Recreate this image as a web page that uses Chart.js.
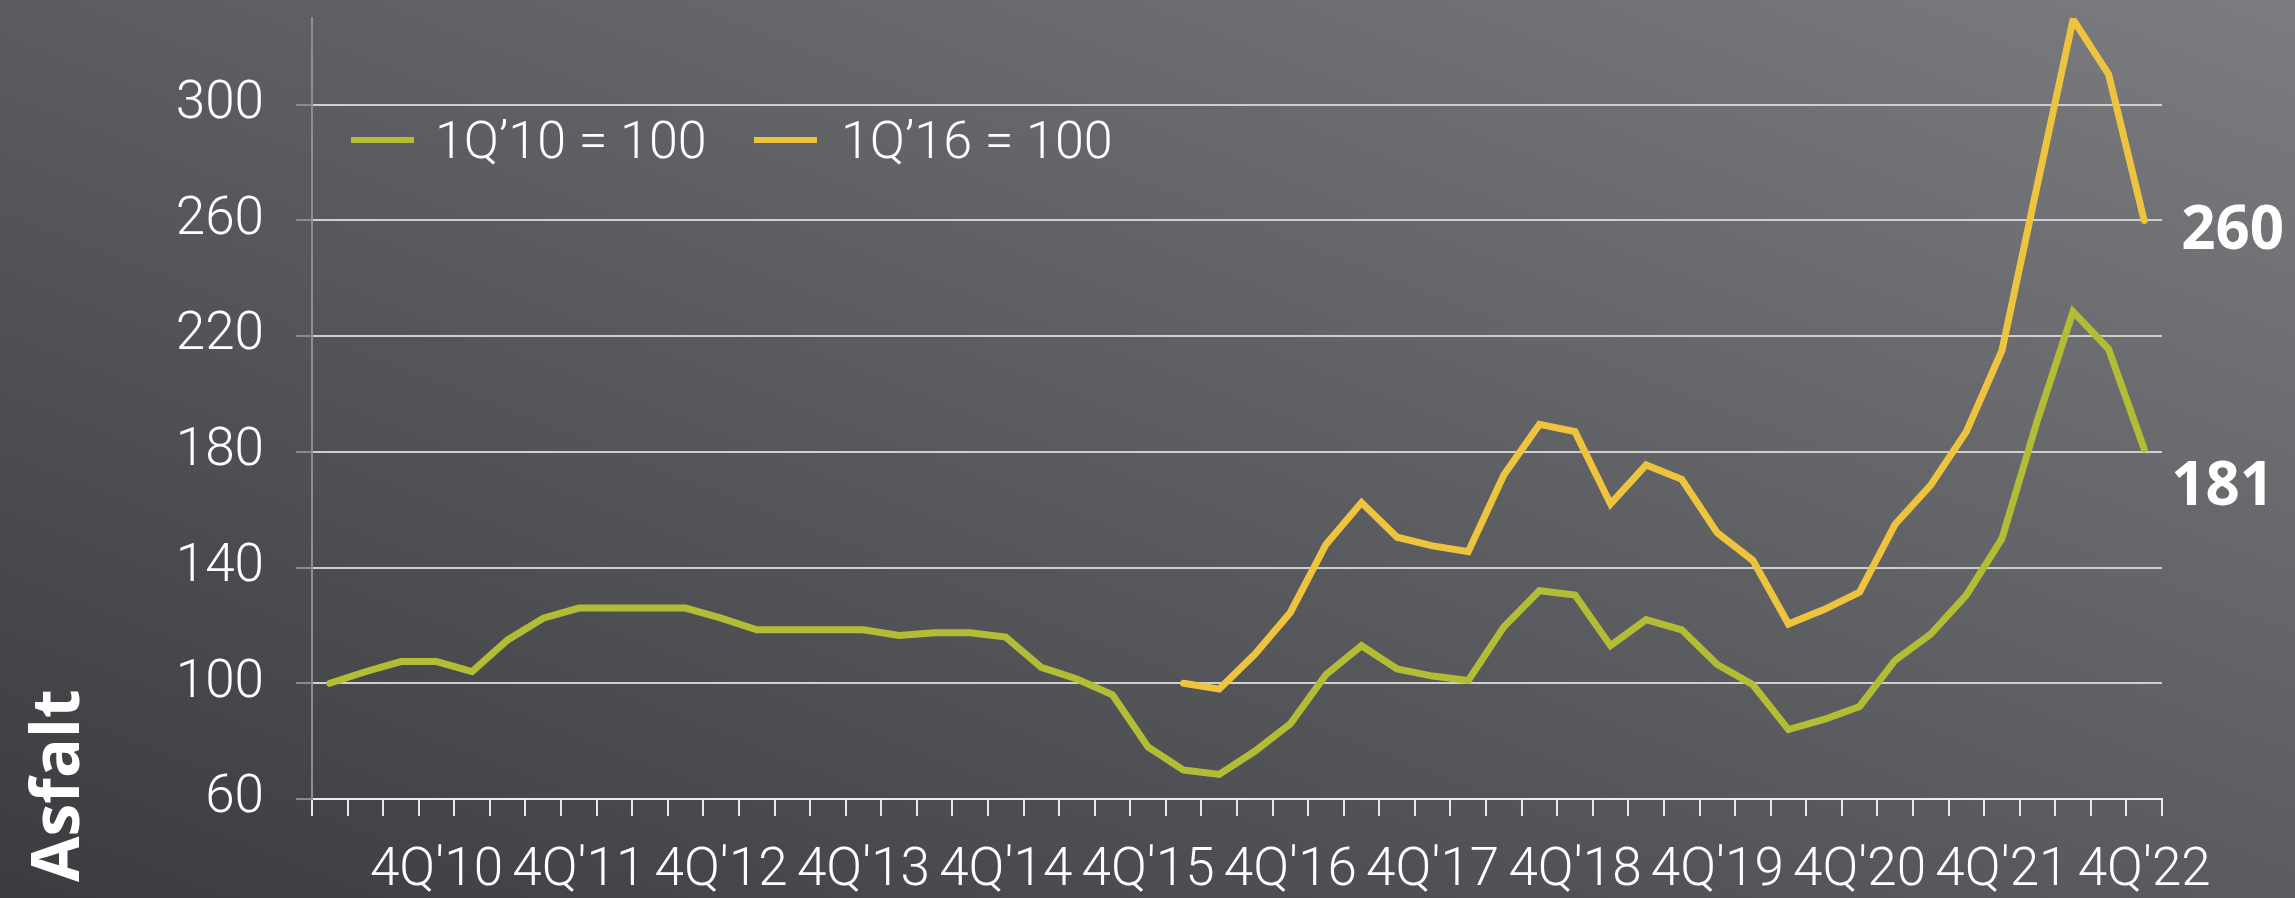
<!DOCTYPE html>
<html>
<head>
<meta charset="utf-8">
<script src="https://cdn.jsdelivr.net/npm/chart.js@4/dist/chart.umd.min.js"></script>
<style>
  html, body { margin: 0; padding: 0; }
  body {
    width: 2295px; height: 898px; overflow: hidden;
    background: linear-gradient(to top right, #3b3c40 0%, #5b5c60 50%, #7b7c80 100%);
  }
  #wrap { position: relative; width: 2295px; height: 898px; }
  canvas { display: block; }
</style>
</head>
<body>
<div id="wrap"><canvas id="c" width="2295" height="898"></canvas></div>
<script>
// ---------- data ----------
const categories = [
  "1Q'10","2Q'10","3Q'10","4Q'10","1Q'11","2Q'11","3Q'11","4Q'11",
  "1Q'12","2Q'12","3Q'12","4Q'12","1Q'13","2Q'13","3Q'13","4Q'13",
  "1Q'14","2Q'14","3Q'14","4Q'14","1Q'15","2Q'15","3Q'15","4Q'15",
  "1Q'16","2Q'16","3Q'16","4Q'16","1Q'17","2Q'17","3Q'17","4Q'17",
  "1Q'18","2Q'18","3Q'18","4Q'18","1Q'19","2Q'19","3Q'19","4Q'19",
  "1Q'20","2Q'20","3Q'20","4Q'20","1Q'21","2Q'21","3Q'21","4Q'21",
  "1Q'22","2Q'22","3Q'22","4Q'22"
];
const shownTickLabels = ["4Q'10","4Q'11","4Q'12","4Q'13","4Q'14","4Q'15","4Q'16","4Q'17","4Q'18","4Q'19","4Q'20","4Q'21","4Q'22"];
const seriesNames = ["1Q\u201910 = 100", "1Q\u201916 = 100"];
const base2010 = [
  100, 104, 107.5, 107.5, 104, 115, 122.5, 126,
  126, 126, 126, 122.5, 118.5, 118.5, 118.5, 118.5,
  116.5, 117.5, 117.5, 116, 105.5, 101.5, 96, 78,
  70, 68.5, 76.5, 86, 103, 113, 105, 102.5,
  101, 119.5, 132, 130.5, 113, 122, 118.5, 106.5,
  99.5, 84, 87.5, 92, 108, 117, 130.5, 150,
  191, 228.5, 215.5, 181
];
const base2016 = [
  null, null, null, null, null, null, null, null,
  null, null, null, null, null, null, null, null,
  null, null, null, null, null, null, null, null,
  100, 98, 110, 124.5, 148, 162.5, 150.5, 147.5,
  145.5, 172, 189.5, 187, 162, 175.5, 170.5, 152,
  142.5, 120.5, 125.5, 131.5, 155, 168.5, 187, 215,
  272.5, 329.5, 310.5, 260
];
const yTicks = [60, 100, 140, 180, 220, 260, 300];
const yMin = 60, yMax = 330;
const sideTitle = "Asfalt";

// ---------- style ----------
const GREEN = '#b3bc35';
const YELLOW = '#eec43e';
const FONT = "Roboto, 'Open Sans', sans-serif";
const BOLDFONT = "'Open Sans', Roboto, sans-serif";
const endLabelStyle = [ {dx: 27, dy: 56}, {dx: 37, dy: 29} ];

const overlayPlugin = {
  id: 'overlay',
  afterDatasetsDraw(chart) {
    const ctx = chart.ctx;
    const ca = chart.chartArea;
    ctx.save();
    // legend
    const items = [
      {x: ca.left + 39, tx: ca.left + 123, color: GREEN, label: chart.data.datasets[0].label},
      {x: ca.left + 442, tx: ca.left + 529, color: YELLOW, label: chart.data.datasets[1].label}
    ];
    items.forEach(it => {
      ctx.fillStyle = it.color;
      ctx.fillRect(it.x, 137, 63, 6);
      ctx.fillStyle = '#ffffff';
      ctx.font = '300 52px ' + FONT;
      ctx.textAlign = 'left';
      ctx.textBaseline = 'alphabetic';
      ctx.fillText(it.label, it.tx, 158);
    });
    // end labels
    chart.data.datasets.forEach((ds, i) => {
      const meta = chart.getDatasetMeta(i);
      const last = meta.data[meta.data.length - 1];
      const v = ds.data[ds.data.length - 1];
      ctx.fillStyle = '#ffffff';
      ctx.font = 'bold 60px ' + BOLDFONT;
      ctx.textAlign = 'left';
      ctx.textBaseline = 'alphabetic';
      ctx.fillText(String(Math.round(v)), last.x + endLabelStyle[i].dx, last.y + endLabelStyle[i].dy);
    });
    // side title
    ctx.translate(79, 882);
    ctx.rotate(-Math.PI / 2);
    ctx.fillStyle = '#ffffff';
    ctx.font = 'bold 66px ' + BOLDFONT;
    ctx.textAlign = 'left';
    ctx.textBaseline = 'alphabetic';
    ctx.fillText(sideTitle, 0, 0);
    ctx.restore();
  }
};

new Chart(document.getElementById('c'), {
  type: 'line',
  data: {
    labels: categories,
    datasets: [
      { label: seriesNames[0], data: base2010, borderColor: GREEN, backgroundColor: GREEN,
        borderWidth: 7, pointRadius: 0, tension: 0, fill: false,
        borderJoinStyle: 'miter', borderCapStyle: 'round' },
      { label: seriesNames[1], data: base2016, borderColor: YELLOW, backgroundColor: YELLOW,
        borderWidth: 7, pointRadius: 0, tension: 0, fill: false, spanGaps: false,
        borderJoinStyle: 'miter', borderCapStyle: 'round' }
    ]
  },
  options: {
    responsive: false,
    animation: false,
    devicePixelRatio: 1,
    layout: { padding: { top: 18, right: 133, left: 0, bottom: 0 } },
    plugins: { legend: { display: false }, tooltip: { enabled: false } },
    scales: {
      x: {
        type: 'category',
        offset: true,
        afterFit(scale) { scale.height = 99; scale.paddingLeft = 0; scale.paddingRight = 0; },
        grid: { offset: true, drawOnChartArea: false, drawTicks: true, tickLength: 17,
                tickColor: '#e8e8e8', lineWidth: 2 },
        border: { display: true, color: '#ececec', width: 2 },
        ticks: {
          autoSkip: false, maxRotation: 0, minRotation: 0, padding: 24,
          color: '#ffffff', font: { family: FONT, size: 53, weight: '300' },
          callback: (v, i) => shownTickLabels.includes(categories[i]) ? categories[i] : ''
        }
      },
      y: {
        min: yMin, max: yMax,
        afterFit(scale) { scale.width = 312; scale.paddingTop = 0; scale.paddingBottom = 0; },
        afterBuildTicks(scale) { scale.ticks = yTicks.map(v => ({ value: v })); },
        grid: { color: '#cfcfcf', lineWidth: 2, drawTicks: true, tickLength: 16, tickColor: '#8a8a8a' },
        border: { display: true, color: '#8e8e8e', width: 2 },
        ticks: { padding: 32, color: '#ffffff', font: { family: FONT, size: 53, weight: '300' } }
      }
    }
  },
  plugins: [overlayPlugin]
});
</script>
</body>
</html>
